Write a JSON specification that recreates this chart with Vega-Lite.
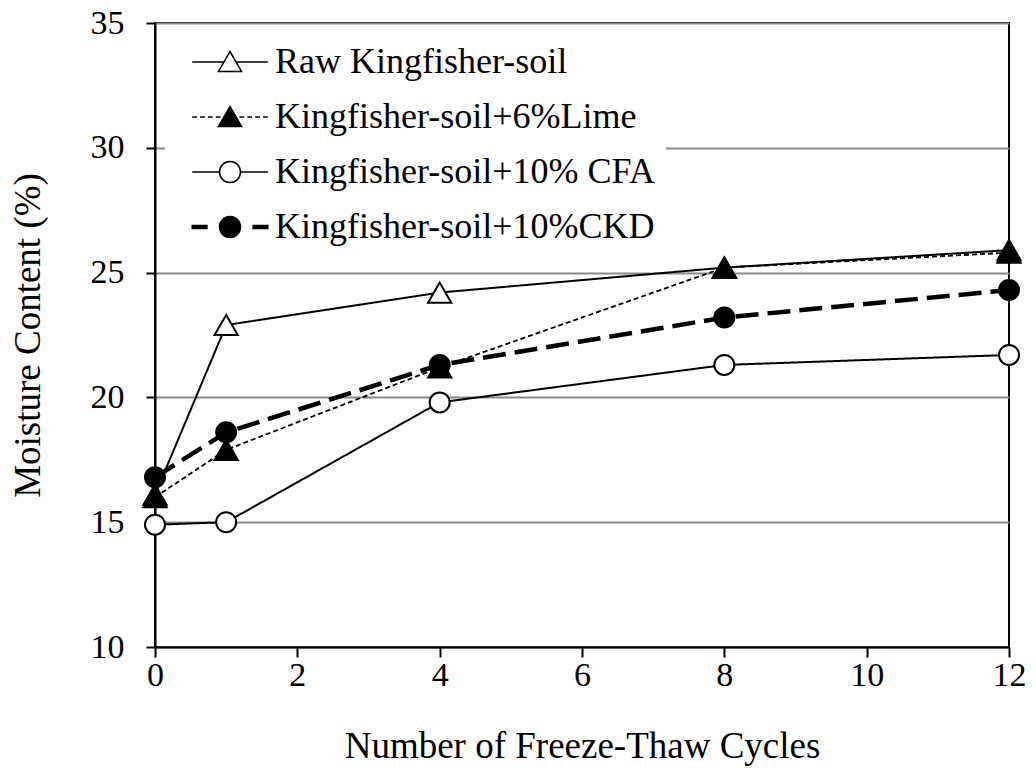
{
  "$schema": "https://vega.github.io/schema/vega-lite/v6.json",
  "width": 854,
  "height": 624,
  "autosize": {"type": "none"},
  "padding": {"left": 155, "top": 23, "right": 27, "bottom": 121},
  "background": "white",
  "config": {
    "font": "Liberation Serif",
    "view": {"stroke": "black", "strokeWidth": 2},
    "axis": {
      "labelFont": "Liberation Serif",
      "titleFont": "Liberation Serif",
      "labelColor": "black",
      "titleColor": "black",
      "titleFontWeight": "normal",
      "domainColor": "black",
      "domainWidth": 2,
      "tickColor": "black",
      "tickWidth": 2,
      "labelFlush": false,
      "labelOverlap": false,
      "labelBound": false
    }
  },
  "data": {
    "values": [
      {"series": "Raw Kingfisher-soil", "cycles": 0, "moisture": 16.1},
      {"series": "Raw Kingfisher-soil", "cycles": 1, "moisture": 22.9},
      {"series": "Raw Kingfisher-soil", "cycles": 4, "moisture": 24.2},
      {"series": "Raw Kingfisher-soil", "cycles": 8, "moisture": 25.2},
      {"series": "Raw Kingfisher-soil", "cycles": 12, "moisture": 25.9},
      {"series": "Kingfisher-soil+6%Lime", "cycles": 0, "moisture": 16.0},
      {"series": "Kingfisher-soil+6%Lime", "cycles": 1, "moisture": 17.9},
      {"series": "Kingfisher-soil+6%Lime", "cycles": 4, "moisture": 21.2},
      {"series": "Kingfisher-soil+6%Lime", "cycles": 8, "moisture": 25.2},
      {"series": "Kingfisher-soil+6%Lime", "cycles": 12, "moisture": 25.8},
      {"series": "Kingfisher-soil+10% CFA", "cycles": 0, "moisture": 14.9},
      {"series": "Kingfisher-soil+10% CFA", "cycles": 1, "moisture": 15.0},
      {"series": "Kingfisher-soil+10% CFA", "cycles": 4, "moisture": 19.8},
      {"series": "Kingfisher-soil+10% CFA", "cycles": 8, "moisture": 21.3},
      {"series": "Kingfisher-soil+10% CFA", "cycles": 12, "moisture": 21.7},
      {"series": "Kingfisher-soil+10%CKD", "cycles": 0, "moisture": 16.8},
      {"series": "Kingfisher-soil+10%CKD", "cycles": 1, "moisture": 18.6},
      {"series": "Kingfisher-soil+10%CKD", "cycles": 4, "moisture": 21.3},
      {"series": "Kingfisher-soil+10%CKD", "cycles": 8, "moisture": 23.2},
      {"series": "Kingfisher-soil+10%CKD", "cycles": 12, "moisture": 24.3}
    ]
  },
  "encoding": {
    "x": {
      "field": "cycles",
      "type": "quantitative",
      "scale": {"domain": [0, 12], "nice": false},
      "axis": {
        "values": [0, 2, 4, 6, 8, 10, 12],
        "title": "Number of Freeze-Thaw Cycles",
        "grid": false,
        "tickSize": 10,
        "labelFontSize": 34,
        "labelPadding": 1,
        "titleFontSize": 37,
        "titlePadding": 36
      }
    },
    "y": {
      "field": "moisture",
      "type": "quantitative",
      "scale": {"domain": [10, 35], "nice": false, "zero": false},
      "axis": {
        "values": [10, 15, 20, 25, 30, 35],
        "title": "Moisture Content (%)",
        "grid": true,
        "gridColor": "#8a8a8a",
        "gridWidth": 2,
        "tickSize": 9,
        "labelFontSize": 34,
        "labelPadding": 22,
        "titleFontSize": 37,
        "titlePadding": 43
      }
    }
  },
  "layer": [
    {
      "mark": {"type": "line", "color": "black", "strokeCap": "butt"},
      "encoding": {
        "detail": {"field": "series"},
        "strokeDash": {
          "condition": [
            {"test": "datum.series === 'Kingfisher-soil+6%Lime'", "value": [5, 3]},
            {"test": "datum.series === 'Kingfisher-soil+10%CKD'", "value": [23, 9]}
          ],
          "value": [1, 0]
        },
        "strokeWidth": {
          "condition": [
            {"test": "datum.series === 'Kingfisher-soil+6%Lime'", "value": 1.8},
            {"test": "datum.series === 'Kingfisher-soil+10%CKD'", "value": 4.5}
          ],
          "value": 2
        }
      }
    },
    {
      "mark": {"type": "point", "filled": true, "stroke": "black", "strokeWidth": 2, "opacity": 1},
      "encoding": {
        "shape": {
          "condition": {"test": "datum.series === 'Kingfisher-soil+10% CFA' || datum.series === 'Kingfisher-soil+10%CKD'", "value": "circle"},
          "value": "triangle-up"
        },
        "fill": {
          "condition": {"test": "datum.series === 'Raw Kingfisher-soil' || datum.series === 'Kingfisher-soil+10% CFA'", "value": "white"},
          "value": "black"
        },
        "size": {
          "condition": {"test": "datum.series === 'Kingfisher-soil+10% CFA' || datum.series === 'Kingfisher-soil+10%CKD'", "value": 400},
          "value": 540
        }
      }
    },
    {
      "transform": [{"filter": "false"}],
      "mark": {"type": "point", "filled": true, "stroke": "black", "strokeWidth": 1.5, "size": 441, "opacity": 1},
      "encoding": {
        "shape": {
          "field": "series",
          "type": "nominal",
          "scale": {
            "domain": ["Raw Kingfisher-soil", "Kingfisher-soil+6%Lime", "Kingfisher-soil+10% CFA", "Kingfisher-soil+10%CKD"],
            "range": [
              "M-3.6,0L-0.58,0M0.58,0L3.6,0M0,-1L1.1,0.9L-1.1,0.9Z",
              "M-3.6,0L-3.15,0M-2.85,0L-2.4,0M-2.1,0L-1.65,0M-1.35,0L-0.9,0M0.9,0L1.35,0M1.65,0L2.1,0M2.4,0L2.85,0M3.15,0L3.6,0M0,-1L1.1,0.9L-1.1,0.9Z",
              "M-3.6,0L-1,0M1,0L3.6,0M-1,0A1,1 0 1,1 1,0A1,1 0 1,1 -1,0Z",
              "M-3.6,-0.15L-2.2,-0.15L-2.2,0.15L-3.6,0.15ZM2.2,-0.15L3.6,-0.15L3.6,0.15L2.2,0.15ZM-1,0A1,1 0 1,1 1,0A1,1 0 1,1 -1,0Z"
            ]
          },
          "legend": {
            "title": null,
            "orient": "top-left",
            "offset": 10,
            "padding": 11,
            "fillColor": "white",
            "labelFont": "Liberation Serif",
            "labelFontSize": 36,
            "labelColor": "black",
            "labelLimit": 0,
            "symbolSize": 441,
            "symbolOffset": 36,
            "labelOffset": 27,
            "rowPadding": 19,
            "symbolStrokeWidth": 1.5,
            "symbolStrokeColor": "black",
            "encoding": {
              "symbols": {
                "stroke": {"value": "black"},
                "strokeWidth": {"value": 1.5},
                "opacity": {"value": 1}
              }
            }
          }
        },
        "fill": {
          "field": "series",
          "type": "nominal",
          "scale": {
            "domain": ["Raw Kingfisher-soil", "Kingfisher-soil+6%Lime", "Kingfisher-soil+10% CFA", "Kingfisher-soil+10%CKD"],
            "range": ["white", "black", "white", "black"]
          },
          "legend": {
            "title": null,
            "orient": "top-left",
            "offset": 10,
            "padding": 11,
            "fillColor": "white",
            "labelFont": "Liberation Serif",
            "labelFontSize": 36,
            "labelColor": "black",
            "labelLimit": 0,
            "symbolSize": 441,
            "symbolOffset": 36,
            "labelOffset": 27,
            "rowPadding": 19,
            "symbolStrokeWidth": 1.5,
            "symbolStrokeColor": "black",
            "encoding": {
              "symbols": {
                "stroke": {"value": "black"},
                "strokeWidth": {"value": 1.5},
                "opacity": {"value": 1}
              }
            }
          }
        }
      }
    }
  ]
}
